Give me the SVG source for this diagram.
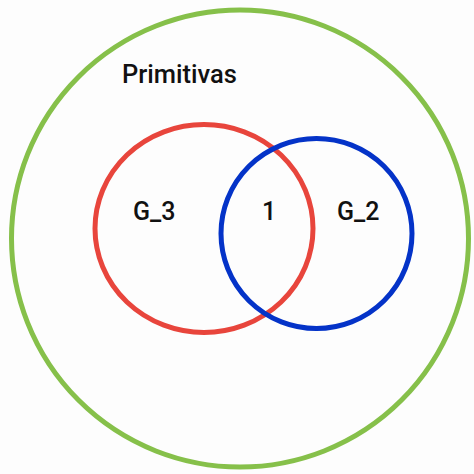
<svg xmlns="http://www.w3.org/2000/svg" width="474" height="474" viewBox="0 0 474 474">
<style>
.set{fill:none;stroke-width:5}
.lbl{font-family:Roboto,"Liberation Sans",sans-serif;font-weight:500;fill:#111}
</style>
<rect width="474" height="474" fill="#fdfdfd"/>
<g id="primitivas">
<circle class="set" cx="240" cy="238.5" r="228.5" stroke="#86c04a"/>
<text class="lbl" x="122" y="83" font-size="25.5">Primitivas</text>
</g>
<g id="G_3">
<ellipse class="set" cx="204" cy="228.5" rx="109" ry="104" stroke="#e8453c"/>
<text class="lbl" x="133" y="220" font-size="25">G_3</text>
</g>
<g id="G_2">
<ellipse class="set" cx="316.5" cy="233.5" rx="95.5" ry="95" stroke="#0433c8"/>
<text class="lbl" x="337" y="220" font-size="25">G_2</text>
</g>
<g id="intersection">
<text class="lbl" x="262" y="220" font-size="25">1</text>
</g>
<g id="connectors"/>
</svg>
